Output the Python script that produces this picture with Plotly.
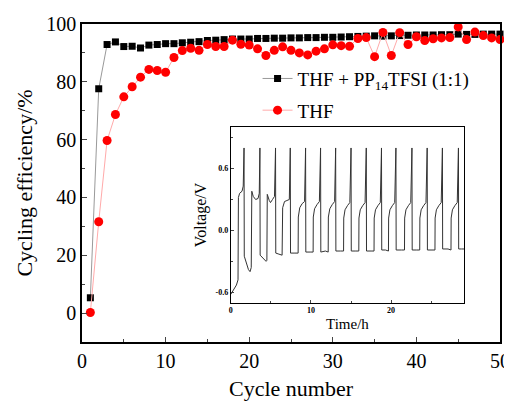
import plotly.graph_objects as go

cycles = list(range(1, 51))
eff_mix = [5.3, 77.6, 92.9, 93.8, 92.2, 92.3, 91.7, 92.7, 92.9, 93.2,
           93.2, 93.5, 93.7, 93.9, 94.3, 94.4, 94.6, 94.8, 94.8, 94.8,
           95.0, 95.0, 95.1, 95.1, 95.2, 95.2, 95.3, 95.3, 95.4, 95.4,
           95.5, 95.6, 95.7, 95.8, 95.9, 95.8, 95.9, 96.0, 96.1, 96.2,
           96.2, 96.2, 96.3, 96.3, 96.5, 96.4, 96.4, 96.5, 96.5, 96.5]
eff_thf = [0.2, 31.6, 59.7, 68.7, 74.8, 78.3, 81.6, 84.3, 83.9, 83.3,
           88.4, 90.8, 91.6, 90.9, 92.9, 92.2, 92.2, 94.4, 93.0, 92.7,
           91.4, 89.1, 90.9, 92.1, 90.9, 90.0, 89.3, 90.6, 91.4, 92.8,
           92.5, 92.3, 95.0, 95.3, 88.7, 97.1, 89.1, 97.0, 92.9, 95.6,
           94.3, 94.9, 95.2, 95.3, 99.0, 94.6, 97.2, 96.0, 95.2, 94.6]

inset_t = [0.0, 0.3, 0.7, 0.9, 0.95, 1.1, 1.4, 1.55, 1.65, 1.68,
           1.9, 2.2, 2.4, 2.55, 2.62, 2.8, 3.1, 3.4, 3.55, 3.63, 3.66,
           4.0, 4.4, 4.5, 4.55, 4.8, 4.95, 5.2, 5.45, 5.58, 5.61,
           6.0, 6.4, 6.47, 6.7, 7.0, 7.3, 7.42, 7.45,
           8.0, 8.4, 8.42, 8.6, 8.9, 9.2, 9.33, 9.36,
           9.9, 10.27, 10.29, 10.45, 10.75, 11.05, 11.2, 11.23,
           11.8, 12.15, 12.17, 12.35, 12.65, 12.95, 13.08, 13.11,
           13.7, 14.07, 14.09, 14.25, 14.55, 14.85, 15.0, 15.03,
           15.6, 15.97, 15.99, 16.15, 16.45, 16.75, 16.9, 16.93,
           17.5, 17.87, 17.89, 18.05, 18.35, 18.65, 18.8, 18.83,
           19.3, 19.67, 19.69, 19.85, 20.15, 20.45, 20.6, 20.63,
           21.3, 21.67, 21.69, 21.85, 22.15, 22.45, 22.6, 22.63,
           23.2, 23.57, 23.59, 23.75, 24.05, 24.35, 24.5, 24.53,
           25.1, 25.47, 25.49, 25.65, 25.95, 26.25, 26.4, 26.43,
           27.1, 27.47, 27.49, 27.65, 27.95, 28.25, 28.4, 28.43,
           28.8, 29.1]
inset_v = [-0.62, -0.58, -0.53, -0.48, 0.32, 0.36, 0.38, 0.43, 0.80, -0.25,
           -0.30, -0.38, -0.40, -0.36, 0.38, 0.33, 0.30, 0.31, 0.36, 0.80, -0.24,
           -0.27, -0.30, -0.29, 0.35, 0.29, 0.27, 0.30, 0.33, 0.80, -0.22,
           -0.23, -0.24, 0.22, 0.28, 0.29, 0.30, 0.80, -0.22,
           -0.22, -0.22, 0.13, 0.22, 0.26, 0.28, 0.80, -0.21,
           -0.21, -0.21, 0.13, 0.21, 0.25, 0.28, 0.80, -0.21,
           -0.20, -0.21, 0.13, 0.21, 0.25, 0.28, 0.80, -0.20,
           -0.20, -0.20, 0.12, 0.20, 0.24, 0.27, 0.80, -0.20,
           -0.20, -0.20, 0.12, 0.20, 0.24, 0.27, 0.80, -0.20,
           -0.20, -0.20, 0.12, 0.20, 0.24, 0.27, 0.80, -0.19,
           -0.19, -0.20, 0.12, 0.20, 0.24, 0.27, 0.80, -0.19,
           -0.19, -0.19, 0.12, 0.20, 0.24, 0.27, 0.80, -0.19,
           -0.19, -0.19, 0.12, 0.20, 0.24, 0.27, 0.80, -0.19,
           -0.19, -0.19, 0.12, 0.20, 0.24, 0.27, 0.80, -0.18,
           -0.18, -0.19, 0.12, 0.20, 0.24, 0.27, 0.80, -0.18,
           -0.18, -0.18]

FONT = "Liberation Serif"

fig = go.Figure()
fig.add_trace(go.Scatter(
    x=cycles, y=eff_mix, mode="lines+markers",
    name="THF + PP<sub>14</sub>TFSI (1:1)", legendgroup="a",
    line=dict(color="#999999", width=1),
    marker=dict(symbol="square", size=7, color="black"),
    cliponaxis=False,
))
fig.add_trace(go.Scatter(
    x=cycles, y=eff_thf, mode="lines+markers",
    name="THF", legendgroup="b",
    line=dict(color="#ffaaaa", width=1),
    marker=dict(symbol="circle", size=9, color="#ff0000"),
    cliponaxis=False,
))
fig.add_trace(go.Scatter(
    x=inset_t, y=inset_v, mode="lines",
    line=dict(color="#333333", width=1),
    xaxis="x2", yaxis="y2", showlegend=False,
))

fig.update_layout(
    width=512, height=401,
    margin=dict(l=74, r=20, t=16, b=67, autoexpand=False),
    paper_bgcolor="white", plot_bgcolor="white",
    font=dict(family=FONT, color="black"),
    showlegend=True,
    legend=dict(x=0.42, y=0.888, xanchor="left", yanchor="top",
                bgcolor="rgba(0,0,0,0)", font=dict(size=19, family=FONT),
                tracegroupgap=4, itemwidth=30),
    xaxis=dict(range=[0, 50], dtick=10, ticks="inside", ticklen=5,
               showline=True, linecolor="black", linewidth=1.5, mirror=True,
               showgrid=False, zeroline=False, automargin=False,
               tickfont=dict(size=20, family=FONT),
               minor=dict(dtick=5, ticks="inside", ticklen=3, showgrid=False),
               title=dict(text="Cycle number", font=dict(size=22, family=FONT), standoff=10)),
    yaxis=dict(range=[-10, 100], tickvals=[0, 20, 40, 60, 80, 100], ticks="inside", ticklen=5,
               showline=True, linecolor="black", linewidth=1.5, mirror=True,
               showgrid=False, zeroline=False, automargin=False,
               tickfont=dict(size=20, family=FONT),
               minor=dict(dtick=10, ticks="inside", ticklen=3, showgrid=False),
               title=dict(text="Cycling efficiency/%", font=dict(size=22, family=FONT), standoff=8)),
    xaxis2=dict(domain=[0.356, 0.914], anchor="y2", range=[0, 29.1], dtick=10,
                ticks="inside", ticklen=3, showline=True, linecolor="black", linewidth=1,
                mirror=True, showgrid=False, zeroline=False,
                tickfont=dict(size=8, family=FONT, weight="bold"),
                minor=dict(dtick=5, ticks="inside", ticklen=2, showgrid=False),
                title=dict(text="Time/h", font=dict(size=15, family=FONT), standoff=4)),
    yaxis2=dict(domain=[0.124, 0.675], anchor="x2", range=[-0.7, 1.0],
                tickvals=[-0.6, 0.0, 0.6], ticktext=["-0.6", "0.0", "0.6"],
                ticks="inside", ticklen=3, showline=True, linecolor="black", linewidth=1,
                mirror=True, showgrid=False, zeroline=False,
                tickfont=dict(size=8, family=FONT, weight="bold"),
                minor=dict(dtick=0.3, tick0=0, ticks="inside", ticklen=2, showgrid=False),
                title=dict(text="Voltage/V", font=dict(size=16, family=FONT), standoff=4)),
)

fig.write_html("out.html")
